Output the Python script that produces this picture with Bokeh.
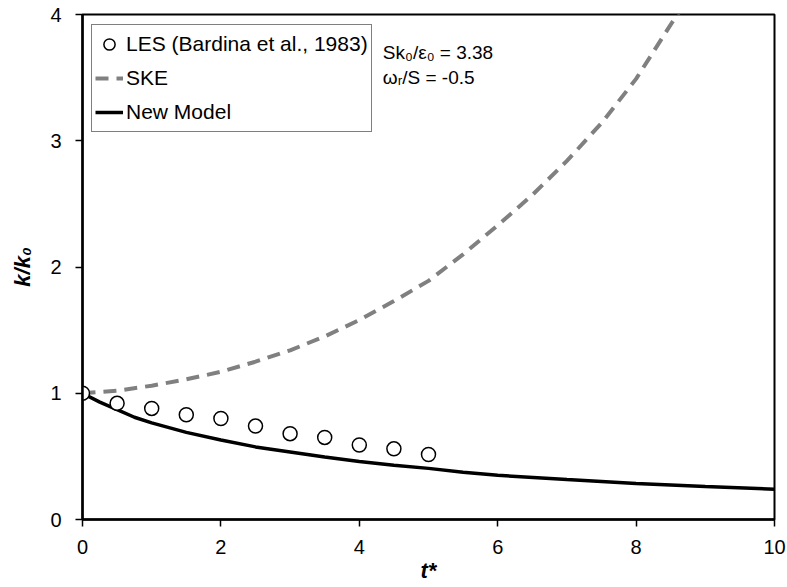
from bokeh.plotting import figure
from bokeh.models import Range1d, Label, Legend, LegendItem, FixedTicker
from bokeh.embed import file_html
from bokeh.resources import INLINE

# LES data (Bardina et al., 1983)
les_t = [0, 0.5, 1, 1.5, 2, 2.5, 3, 3.5, 4, 4.5, 5]
les_k = [1.0, 0.92, 0.88, 0.83, 0.80, 0.74, 0.68, 0.65, 0.59, 0.56, 0.515]

# SKE model
ske_t = [0, 0.5, 1, 1.5, 2, 2.5, 3, 3.5, 4, 4.5, 5, 5.5, 6, 6.5, 7, 7.5, 8, 8.5, 8.6, 8.7]
ske_k = [1.0, 1.02, 1.06, 1.11, 1.17, 1.25, 1.34, 1.45, 1.58, 1.73, 1.89, 2.10, 2.33, 2.57, 2.84, 3.14, 3.49, 3.92, 4.0, 4.08]

# New Model
new_t = [0, 0.25, 0.5, 0.75, 1, 1.5, 2, 2.5, 3, 3.5, 4, 4.5, 5, 5.5, 6, 7, 8, 9, 10]
new_k = [1.0, 0.93, 0.87, 0.81, 0.765, 0.69, 0.63, 0.575, 0.535, 0.495, 0.46, 0.43, 0.405, 0.375, 0.35, 0.317, 0.286, 0.262, 0.24]

x_ticks = [0, 2, 4, 6, 8, 10]
y_ticks = [0, 1, 2, 3, 4]

FONT = "Liberation Sans"

p = figure(width=787, height=587, x_range=Range1d(0, 10), y_range=Range1d(0, 4),
           output_backend="svg", toolbar_location=None,
           min_border_left=82, min_border_right=13, min_border_top=14, min_border_bottom=68)

p.grid.visible = False
p.background_fill_color = "white"
p.border_fill_color = "white"
p.outline_line_color = "black"
p.outline_line_width = 2
p.outline_line_alpha = 1

for ax in (p.xaxis[0], p.yaxis[0]):
    ax.axis_line_color = "black"
    ax.axis_line_width = 2.5
    ax.major_tick_line_color = "black"
    ax.major_tick_line_width = 1.5
    ax.major_tick_out = 7
    ax.major_tick_in = 0
    ax.minor_tick_line_color = None
    ax.major_label_text_font = FONT
    ax.major_label_text_font_size = "20px"
    ax.major_label_text_color = "black"
    ax.axis_label_text_font = FONT
    ax.axis_label_text_font_size = "22px"
    ax.axis_label_text_font_style = "bold italic"
    ax.axis_label_text_color = "black"

p.xaxis[0].ticker = FixedTicker(ticks=x_ticks)
p.yaxis[0].ticker = FixedTicker(ticks=y_ticks)
p.xaxis[0].major_label_standoff = 13
p.yaxis[0].major_label_standoff = 14
p.xaxis[0].axis_label = "t*"
p.yaxis[0].axis_label = "k/k\u2080"
p.xaxis[0].axis_label_standoff = 1
p.yaxis[0].axis_label_standoff = 12

r_ske = p.line(ske_t, ske_k, line_color="#808080", line_width=4, line_dash="13 8")
r_new = p.line(new_t, new_k, line_color="black", line_width=3.5)
r_les = p.scatter(les_t, les_k, marker="circle", size=14, fill_color="white",
                  line_color="black", line_width=1.5)

legend = Legend(items=[
    LegendItem(label="LES (Bardina et al., 1983)", renderers=[r_les]),
    LegendItem(label="SKE", renderers=[r_ske]),
    LegendItem(label="New Model", renderers=[r_new]),
], location=(9, 387))
legend.border_line_color = "black"
legend.border_line_width = 1
legend.background_fill_color = "white"
legend.background_fill_alpha = 1
legend.label_text_font = FONT
legend.label_text_font_size = "21px"
legend.label_text_color = "black"
legend.glyph_width = 28
legend.glyph_height = 32
legend.label_height = 32
legend.label_standoff = 3
legend.spacing = 2
legend.padding = 3
legend.margin = 0
p.add_layout(legend)

p.add_layout(Label(x=4.34, y=3.70, text="Sk\u2080/\u03b5\u2080 = 3.38", text_font=FONT,
                   text_font_size="19px", text_baseline="middle", text_color="black"))
p.add_layout(Label(x=4.34, y=3.50, text="\u03c9\u1d63/S = -0.5", text_font=FONT,
                   text_font_size="19px", text_baseline="middle", text_color="black"))

open("out.html", "w").write(file_html(p, INLINE))
